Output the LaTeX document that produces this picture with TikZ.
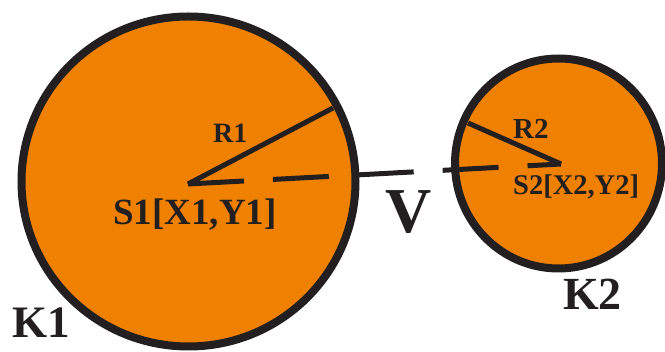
\documentclass[tikz,border=0pt]{standalone}
\usepackage{fontspec}
\setmainfont{Liberation Serif}
\definecolor{fillor}{RGB}{240,128,0}
\definecolor{ink}{RGB}{35,31,32}
\begin{document}
\begin{tikzpicture}[x=1pt,y=-1pt,
  ring/.style={draw=ink,line width=8pt,fill=fillor},
  rad/.style={draw=ink,line width=5pt,line join=miter},
  dist/.style={draw=ink,line width=5pt,dash pattern=on 56pt off 29pt},
  lbl/.style={inner sep=0pt,text=ink,font=\bfseries}]
\useasboundingbox (0,0) rectangle (665,352);
\coordinate (C1) at (188.5,181.5);
\coordinate (C2) at (558.5,163.5);
\draw[ring] (C1) ellipse [x radius=167, y radius=165];
\draw[ring] (C2) ellipse [x radius=103.5, y radius=105];
\coordinate (S1) at (188,184);
\coordinate (S2) at (561,164);
\coordinate (P1) at (333,108);
\coordinate (P2) at (468,123);
\draw[rad] (P1) -- (S1);
\draw[rad] (P2) -- (S2);
\draw[dist] (S1) -- (S2);
\node[lbl,anchor=base west,font=\bfseries\fontsize{28}{30}\selectfont] (r1) at (213,143) {R1};
\node[lbl,anchor=base west,font=\bfseries\fontsize{29}{30}\selectfont] (r2) at (513,139) {R2};
\node[lbl,anchor=base west,font=\bfseries\fontsize{37}{40}\selectfont] (s1) at (113,225) {S1[X1,Y1]};
\node[lbl,anchor=base west,font=\bfseries\fontsize{28.5}{30}\selectfont] (s2) at (513,195) {S2[X2,Y2]};
\node[lbl,anchor=base west,font=\bfseries\fontsize{64}{70}\selectfont] (v) at (385,233) {V};
\node[lbl,anchor=base west,font=\bfseries\fontsize{45}{50}\selectfont] (k1) at (12,338) {K1};
\node[lbl,anchor=base west,font=\bfseries\fontsize{46}{50}\selectfont] (k2) at (563,310) {K2};
\end{tikzpicture}
\end{document}
